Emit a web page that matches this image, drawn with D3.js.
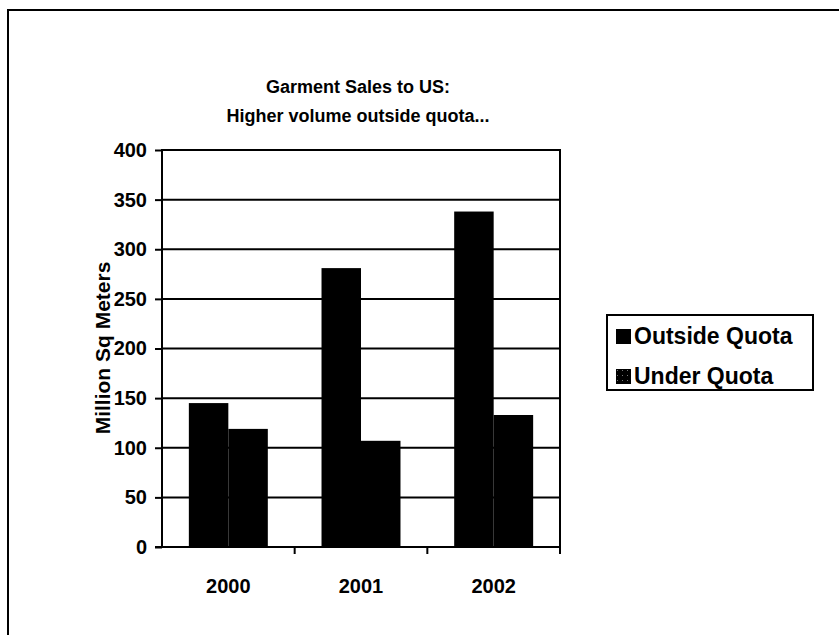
<!DOCTYPE html>
<html>
<head>
<meta charset="utf-8">
<script src="https://cdn.jsdelivr.net/npm/d3@7"></script>
<style>
  body { margin: 0; background: #fff; }
  text { font-family: "Liberation Sans", Arial, sans-serif; font-weight: bold; fill: #000; }
</style>
</head>
<body>
<svg id="chart" width="839" height="635"></svg>
<script>
// chart data
const years       = ['2000', '2001', '2002'];
const seriesNames = ['Outside Quota', 'Under Quota'];
const outsideQuota = [145, 281, 338];
const underQuota   = [119, 107, 133];
const yTicks       = [0, 50, 100, 150, 200, 250, 300, 350, 400];
const titleLines   = ['Garment Sales to US:', 'Higher volume outside quota...'];

const svg = d3.select('#chart');

// outer frame (only top and left edges show in the scan)
svg.append('path')
  .attr('d', 'M8,635 V10 H839')
  .attr('fill', 'none').attr('stroke', '#000').attr('stroke-width', 2);

// plot area
const plot = {left: 162, top: 150, right: 560, bottom: 547};

const x = d3.scaleBand()
  .domain(years)
  .range([plot.left, plot.right]);

const xInner = d3.scaleBand()
  .domain(seriesNames)
  .range([0, x.bandwidth()])
  .paddingOuter(0.68);

const y = d3.scaleLinear()
  .domain([0, 400])
  .range([plot.bottom, plot.top]);

// gridlines
svg.append('g')
  .selectAll('line')
  .data(yTicks.filter(d => d > 0))
  .join('line')
  .attr('x1', plot.left).attr('x2', plot.right)
  .attr('y1', d => y(d)).attr('y2', d => y(d))
  .attr('stroke', '#000').attr('stroke-width', 2);

// right border of plot area
svg.append('line')
  .attr('x1', plot.right).attr('x2', plot.right)
  .attr('y1', plot.top - 1).attr('y2', plot.bottom)
  .attr('stroke', '#000').attr('stroke-width', 2);

// bars
const rows = years.map((yr, i) => ({year: yr, values: [outsideQuota[i], underQuota[i]]}));
svg.append('g')
  .selectAll('g')
  .data(rows)
  .join('g')
  .attr('transform', d => `translate(${x(d.year)},0)`)
  .selectAll('rect')
  .data(d => d.values.map((v, j) => ({name: seriesNames[j], value: v})))
  .join('rect')
  .attr('x', d => xInner(d.name))
  .attr('width', xInner.bandwidth())
  .attr('y', d => y(d.value))
  .attr('height', d => y(0) - y(d.value))
  .attr('fill', '#000');

// y axis
const yAxis = svg.append('g')
  .attr('transform', `translate(${plot.left},0)`)
  .call(d3.axisLeft(y).tickValues(yTicks).tickSize(7).tickPadding(8).tickFormat(d3.format('d')));
yAxis.select('.domain').attr('stroke-width', 2).attr('d', `M0,${plot.top - 1}V${plot.bottom + 1}`);
yAxis.selectAll('.tick line').attr('stroke-width', 2);
yAxis.selectAll('text').style('font-size', '20px').attr('fill', '#000');

// x axis: ticks sit between categories and point down
const xAxis = svg.append('g')
  .attr('transform', `translate(0,${plot.bottom})`);
xAxis.append('line')
  .attr('x1', plot.left - 7).attr('x2', plot.right + 1)
  .attr('stroke', '#000').attr('stroke-width', 2);
xAxis.selectAll('.sep')
  .data(years)
  .join('line')
  .attr('class', 'sep')
  .attr('x1', d => x(d) + x.bandwidth())
  .attr('x2', d => x(d) + x.bandwidth())
  .attr('y1', 0).attr('y2', 7)
  .attr('stroke', '#000').attr('stroke-width', 2);
xAxis.selectAll('text')
  .data(years)
  .join('text')
  .attr('x', d => x(d) + x.bandwidth() / 2)
  .attr('y', 46)
  .attr('text-anchor', 'middle')
  .style('font-size', '20px')
  .text(d => d);

// y axis title
svg.append('text')
  .attr('transform', 'translate(110,348) rotate(-90)')
  .attr('text-anchor', 'middle')
  .style('font-size', '21px')
  .text('Million Sq Meters');

// chart title
svg.append('g')
  .selectAll('text')
  .data(titleLines)
  .join('text')
  .attr('x', 358)
  .attr('y', (d, i) => 93 + i * 29)
  .attr('text-anchor', 'middle')
  .style('font-size', '18px')
  .text(d => d);

// legend
const legend = svg.append('g');
legend.append('rect')
  .attr('x', 607).attr('y', 315)
  .attr('width', 206).attr('height', 75)
  .attr('fill', '#fff').attr('stroke', '#000').attr('stroke-width', 2);

// faint speckle for the second swatch
const defs = svg.append('defs');
const pat = defs.append('pattern')
  .attr('id', 'speckle').attr('patternUnits', 'userSpaceOnUse')
  .attr('width', 5).attr('height', 5);
pat.append('rect').attr('width', 5).attr('height', 5).attr('fill', '#000');
pat.append('rect').attr('x', 1).attr('y', 1).attr('width', 1).attr('height', 1).attr('fill', '#777');

const items = legend.selectAll('g.item')
  .data(seriesNames)
  .join('g')
  .attr('class', 'item')
  .attr('transform', (d, i) => `translate(616,${329 + i * 40})`);
items.append('rect')
  .attr('width', 15).attr('height', 15)
  .attr('fill', (d, i) => i === 0 ? '#000' : 'url(#speckle)');
items.append('text')
  .attr('x', 18).attr('y', 15)
  .style('font-size', '23px')
  .text(d => d);
</script>
</body>
</html>
